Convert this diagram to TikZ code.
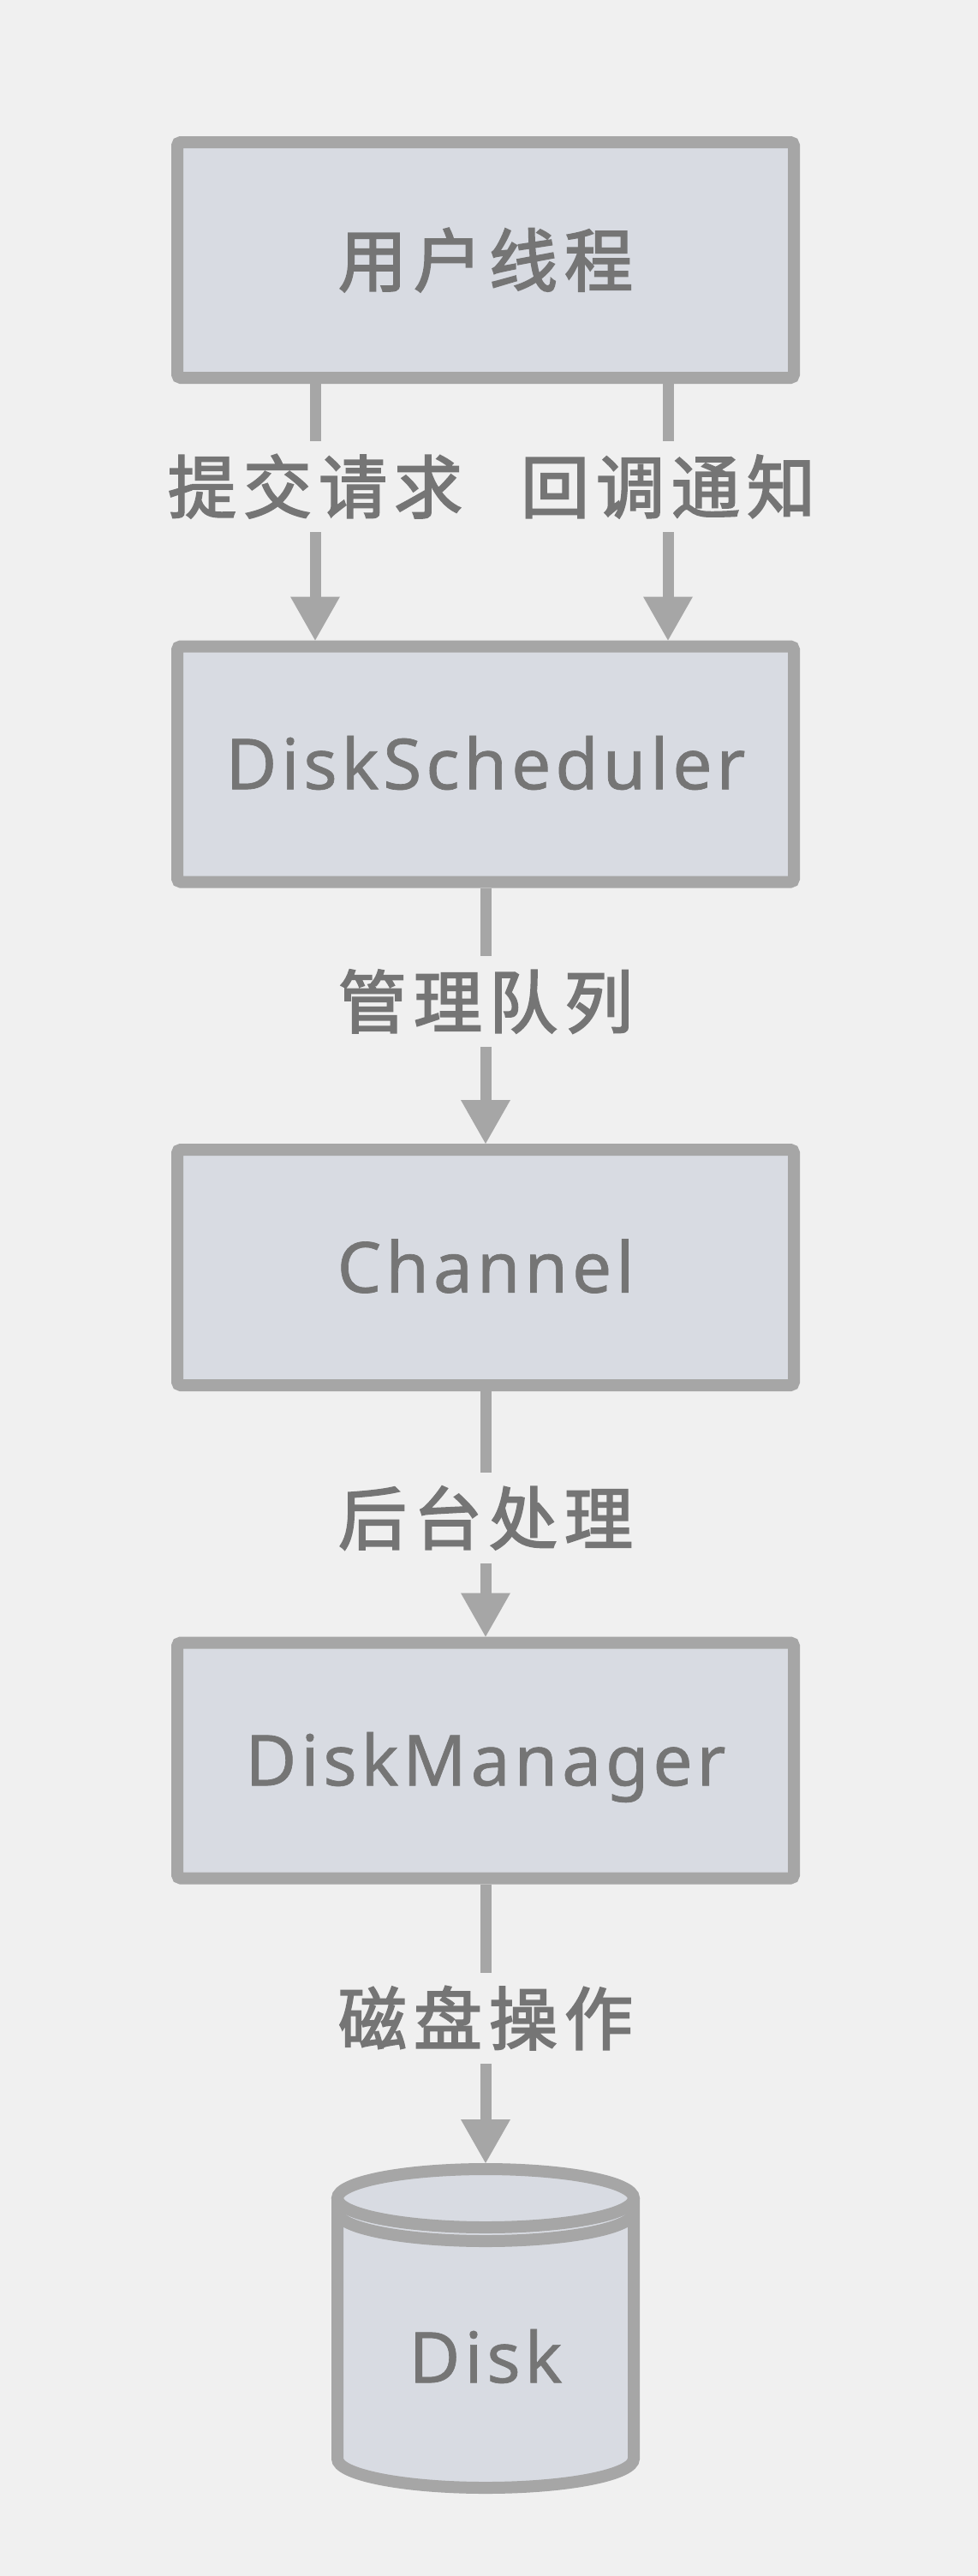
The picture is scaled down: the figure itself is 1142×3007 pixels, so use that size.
\documentclass[tikz,border=0pt]{standalone}
\usepackage{fontspec}
\setmainfont{Noto Sans}
\newfontfamily\cjk[LetterSpace=10,FakeBold=2.5]{Noto Sans CJK SC}
\newfontfamily\lat[LetterSpace=6,FakeBold=0.8]{Noto Sans}
\usetikzlibrary{arrows.meta}
\definecolor{bgc}{HTML}{F0F0F0}
\definecolor{fillc}{HTML}{D8DBE2}
\definecolor{strokec}{HTML}{A6A6A6}
\definecolor{textc}{HTML}{757575}
\begin{document}
\begin{tikzpicture}[x=1pt,y=-1pt,
  box/.style={draw=strokec, fill=fillc, line width=14pt, rounded corners=4pt,
    minimum width=720pt, minimum height=275pt, inner sep=0pt, text=textc,
    font=\lat\fontsize{82}{90}\selectfont, text height=58.5pt, text depth=0pt},
  cjkbox/.style={font=\cjk\fontsize{80}{90}\selectfont, text height=70.4pt, text depth=9.6pt},
  lbl/.style={inner sep=0pt, text=textc, font=\cjk\fontsize{80}{90}\selectfont,
    minimum height=106pt, text height=70.4pt, text depth=9.6pt},
  conn/.style={draw=strokec, line width=13pt},
  tip/.style={-{Triangle[length=51pt,width=58pt,line width=0pt]}},
  cyl/.style={draw=strokec, line width=14pt}
]
\fill[bgc] (0,0) rectangle (1142,3007);
\useasboundingbox (0,0) rectangle (1142,3007);

\node[box, cjkbox] (b1) at (567,303.5) {用户线程};
\node[box] (b2) at (567,892) {DiskScheduler};
\node[box] (b3) at (567,1479.5) {Channel};
\node[box] (b4) at (567,2055) {DiskManager};

% cylinder
\fill[fillc] (394,2566) -- (394,2870)
  arc[start angle=180,end angle=360,x radius=173pt,y radius=34pt]
  -- (740,2566)
  arc[start angle=0,end angle=180,x radius=173pt,y radius=34pt] -- cycle;
\draw[cyl] (394,2566) -- (394,2870)
  arc[start angle=180,end angle=360,x radius=173pt,y radius=34pt]
  -- (740,2566);
\draw[cyl] (567,2566) ellipse[x radius=173pt,y radius=34pt];
\draw[cyl] (394,2582) arc[start angle=180,end angle=360,x radius=173pt,y radius=34pt];
\coordinate (disktop) at (567,2525);
\node[text=textc, inner sep=0pt, font=\lat\fontsize{82}{90}\selectfont,
  text height=58.5pt, text depth=0pt] (disk) at (567,2752) {Disk};

% labels
\node[lbl] (l1) at (368,568) {提交请求};
\node[lbl] (l2) at (780,568) {回调通知};
\node[lbl] (l3) at (567,1169) {管理队列};
\node[lbl] (l4) at (567,1772) {后台处理};
\node[lbl] (l5) at (567,2356) {磁盘操作};

% connectors
\draw[conn] (b1.south -| l1) -- (l1.north);
\draw[conn, tip] (l1.south) -- (b2.north -| l1);
\draw[conn] (b1.south -| l2) -- (l2.north);
\draw[conn, tip] (l2.south) -- (b2.north -| l2);
\draw[conn] (b2.south) -- (l3.north);
\draw[conn, tip] (l3.south) -- (b3.north);
\draw[conn] (b3.south) -- (l4.north);
\draw[conn, tip] (l4.south) -- (b4.north);
\draw[conn] (b4.south) -- (l5.north);
\draw[conn, tip] (l5.south) -- (disktop);
\end{tikzpicture}
\end{document}
